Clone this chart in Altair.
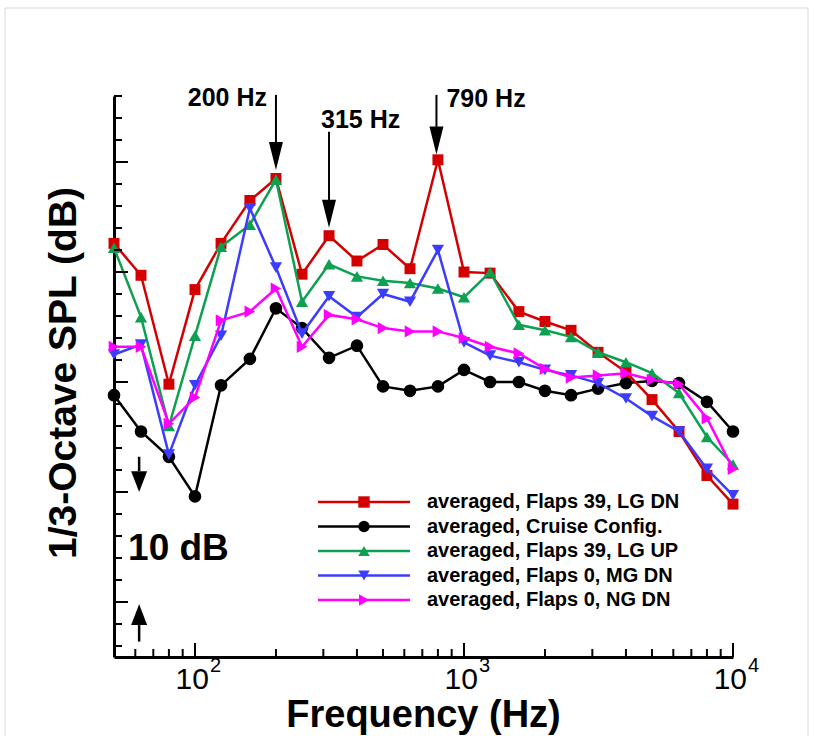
import altair as alt
import pandas as pd

# 1/3-octave band centre frequencies (Hz)
freqs = [50, 63, 80, 100, 125, 160, 200, 250, 315, 400, 500, 630, 800, 1000,
         1250, 1600, 2000, 2500, 3150, 4000, 5000, 6300, 8000, 10000]

# SPL values (dB, arbitrary reference)
spl_flaps39_lgdn = [92.6, 89.7, 79.8, 88.4, 92.6, 96.5, 98.5, 89.8, 93.3, 91.0, 92.5, 90.3,
                    100.2, 90.0, 89.9, 86.4, 85.5, 84.7, 82.7, 80.9, 78.4, 75.5, 71.5, 68.9]
spl_cruise = [78.8, 75.5, 73.2, 69.6, 79.7, 82.1, 86.7, 84.9, 82.2, 83.3, 79.6, 79.2,
              79.6, 81.1, 80.0, 80.0, 79.2, 78.8, 79.4, 79.9, 80.1, 79.9, 78.2, 75.5]
spl_flaps39_lgup = [92.2, 85.9, 76.0, 84.2, 92.3, 94.3, 98.4, 87.3, 90.7, 89.6, 89.2, 89.0,
                    88.5, 87.7, 90.0, 85.2, 84.7, 84.1, 82.7, 81.8, 80.8, 79.0, 75.0, 72.5]
spl_flaps0_mgdn = [82.5, 83.4, 73.4, 79.7, 84.2, 95.8, 90.4, 84.4, 87.8, 85.9, 88.0, 87.3,
                   92.0, 83.6, 82.4, 81.8, 81.1, 80.6, 79.9, 78.5, 76.9, 75.5, 72.1, 69.7]
spl_flaps0_ngdn = [83.2, 83.2, 76.2, 78.6, 85.6, 86.4, 88.5, 83.2, 86.1, 85.7, 84.9, 84.6,
                   84.6, 84.0, 83.2, 82.6, 81.2, 80.4, 80.6, 80.8, 80.2, 79.8, 76.7, 72.1]

series_names = ["averaged, Flaps 39, LG DN", "averaged, Cruise Config.",
                "averaged, Flaps 39, LG UP", "averaged, Flaps 0, MG DN",
                "averaged, Flaps 0, NG DN"]
series_values = [spl_flaps39_lgdn, spl_cruise, spl_flaps39_lgup, spl_flaps0_mgdn, spl_flaps0_ngdn]
series_colors = ["#d40000", "#000000", "#0ca050", "#3c3cff", "#ff00ff"]
series_shapes = ["square", "circle", "triangle-up", "triangle-down", "triangle-right"]
series_sizes = [120, 160, 150, 150, 150]
draw_order = [1, 0, 2, 3, 4]

# annotations
ann_freq = [200, 315, 790]
ann_label = ["200 Hz", "315 Hz", "790 Hz"]
ann_shaft_top = [106.1, 102.75, 106.1]
ann_shaft_bottom = [101.8, 96.5, 103.2]
ann_head_mid = [100.55, 95.3, 101.95]
ann_text_y = [105.1, 103.05, 105.0]

# axis ticks
x_major_ticks = [100, 1000, 10000]
x_minor_ticks = [60, 70, 80, 90, 200, 300, 400, 500, 600, 700, 800, 900,
                 2000, 3000, 4000, 5000, 6000, 7000, 8000, 9000]
x_tick_exp = ["2", "3", "4"]
y_minor_ticks = list(range(56, 107, 2))
y_major_ticks = [60, 70, 80, 90, 100]

W, H = 619, 561
FONT = "Liberation Sans"

xs = alt.Scale(type="log", domain=[50, 10000], nice=False)
ys = alt.Scale(domain=[55, 106], nice=False, zero=False)
AX = alt.Axis(title=None, labels=False, ticks=False, grid=False,
              domainColor="black", domainWidth=3)


def X(field):
    return alt.X(field, type="quantitative", scale=xs, axis=AX)


def Y(field):
    return alt.Y(field, type="quantitative", scale=ys, axis=AX)


layers = []

# frame
one = pd.DataFrame({"a": [0]})
layers.append(alt.Chart(one).mark_rect(fill=None, stroke="#d9d9d9", strokeWidth=1).encode(
    x=alt.value(-109), x2=alt.value(694), y=alt.value(-88), y2=alt.value(660)))

# data
for i in draw_order:
    df = pd.DataFrame({"freq": freqs, "spl": series_values[i]})
    base = alt.Chart(df)
    layers.append(base.mark_line(strokeWidth=2.5, color=series_colors[i]).encode(
        x=X("freq"), y=Y("spl")))
    layers.append(base.mark_point(shape=series_shapes[i], filled=True, opacity=1,
                                  size=series_sizes[i], color=series_colors[i]).encode(
        x=X("freq"), y=Y("spl")))

# y ticks (inward)
ymin_df = pd.DataFrame({"v": y_minor_ticks})
ymaj_df = pd.DataFrame({"v": y_major_ticks})
layers.append(alt.Chart(ymin_df).mark_rule(color="black", strokeWidth=2).encode(
    y=Y("v"), x=alt.value(0), x2=alt.value(8)))
layers.append(alt.Chart(ymaj_df).mark_rule(color="black", strokeWidth=2).encode(
    y=Y("v"), x=alt.value(0), x2=alt.value(14)))

# x ticks (inward)
xmin_df = pd.DataFrame({"f": x_minor_ticks})
xmaj_df = pd.DataFrame({"f": x_major_ticks, "e": x_tick_exp})
layers.append(alt.Chart(xmin_df).mark_rule(color="black", strokeWidth=2).encode(
    x=X("f"), y=alt.value(H), y2=alt.value(H - 8)))
layers.append(alt.Chart(xmaj_df).mark_rule(color="black", strokeWidth=2).encode(
    x=X("f"), y=alt.value(H), y2=alt.value(H - 14)))

# x tick labels 10^n
layers.append(alt.Chart(xmaj_df).mark_text(font=FONT, fontSize=30, align="right",
                                           baseline="alphabetic", dx=14, color="black").encode(
    x=X("f"), y=alt.value(593), text=alt.value("10")))
layers.append(alt.Chart(xmaj_df).mark_text(font=FONT, fontSize=20, align="left",
                                           baseline="alphabetic", dx=15, color="black").encode(
    x=X("f"), y=alt.value(576), text="e:N"))

# axis titles
layers.append(alt.Chart(one).mark_text(font=FONT, fontWeight="bold", fontSize=38,
                                       align="center", baseline="alphabetic").encode(
    x=alt.value(W / 2), y=alt.value(631), text=alt.value("Frequency (Hz)")))
layers.append(alt.Chart(one).mark_text(font=FONT, fontWeight="bold", fontSize=39, angle=270,
                                       align="center", baseline="middle").encode(
    x=alt.value(-50), y=alt.value(277), text=alt.value("1/3-Octave SPL (dB)")))

# frequency annotations
ann_df = pd.DataFrame({"f": ann_freq, "label": ann_label, "top": ann_shaft_top,
                       "bot": ann_shaft_bottom, "mid": ann_head_mid, "ty": ann_text_y})
layers.append(alt.Chart(ann_df).mark_rule(color="black", strokeWidth=2).encode(
    x=X("f"), y=Y("top"), y2="bot"))
layers.append(alt.Chart(ann_df).mark_point(shape="M-0.5,-1L0.5,-1L0,1Z", size=784,
                                           filled=True, color="black", opacity=1).encode(
    x=X("f"), y=Y("mid")))
for j, (al, dx) in enumerate([("right", -9), ("left", -8), ("left", 10)]):
    layers.append(alt.Chart(ann_df.iloc[[j]]).mark_text(
        font=FONT, fontWeight="bold", fontSize=25, align=al, baseline="alphabetic",
        dx=dx, color="black").encode(x=X("f"), y=Y("ty"), text="label:N"))

# 10 dB scale marker
db_freq = [62]
db_df = pd.DataFrame({"f": db_freq * 2, "top": [73.2, 57.9], "bot": [71.9, 56.4],
                      "mid": [70.95, 58.85], "dir": ["down", "up"]})
layers.append(alt.Chart(db_df).mark_rule(color="black", strokeWidth=2.5).encode(
    x=X("f"), y=Y("top"), y2="bot"))
layers.append(alt.Chart(db_df.iloc[[0]]).mark_point(
    shape="M-0.5,-0.65L0.5,-0.65L0,0.65Z", size=1024, filled=True, color="black",
    opacity=1).encode(x=X("f"), y=Y("mid")))
layers.append(alt.Chart(db_df.iloc[[1]]).mark_point(
    shape="M-0.5,0.65L0.5,0.65L0,-0.65Z", size=1024, filled=True, color="black",
    opacity=1).encode(x=X("f"), y=Y("mid")))
layers.append(alt.Chart(pd.DataFrame({"f": [56.4], "v": [63.8]})).mark_text(
    font=FONT, fontWeight="bold", fontSize=37, align="left", baseline="alphabetic",
    color="black").encode(x=X("f"), y=Y("v"), text=alt.value("10 dB")))

# legend
leg_df = pd.DataFrame({"name": series_names,
                       "py": [406 + 24.5 * k for k in range(len(series_names))]})
cscale = alt.Scale(domain=series_names, range=series_colors)
sscale = alt.Scale(domain=series_names, range=series_shapes)
leg_base = alt.Chart(leg_df)
layers.append(leg_base.mark_rule(strokeWidth=2.5).encode(
    x=alt.value(204), x2=alt.value(296), y=alt.Y("py:Q", scale=None),
    color=alt.Color("name:N", scale=cscale, legend=None)))
layers.append(leg_base.mark_point(filled=True, opacity=1, size=130).encode(
    x=alt.value(250), y=alt.Y("py:Q", scale=None),
    color=alt.Color("name:N", scale=cscale, legend=None),
    shape=alt.Shape("name:N", scale=sscale, legend=None)))
layers.append(leg_base.mark_text(font=FONT, fontWeight="bold", fontSize=20, align="left",
                                 baseline="middle", color="black").encode(
    x=alt.value(313), y=alt.Y("py:Q", scale=None), text="name:N"))

chart = alt.layer(*layers).properties(
    width=W, height=H,
    padding={"left": 114, "top": 96, "right": 82, "bottom": 79},
    autosize=alt.AutoSizeParams(type="none"),
    background="white",
).configure_view(stroke=None)

chart.save("out.html", embed_options={"renderer": "svg", "actions": False})
